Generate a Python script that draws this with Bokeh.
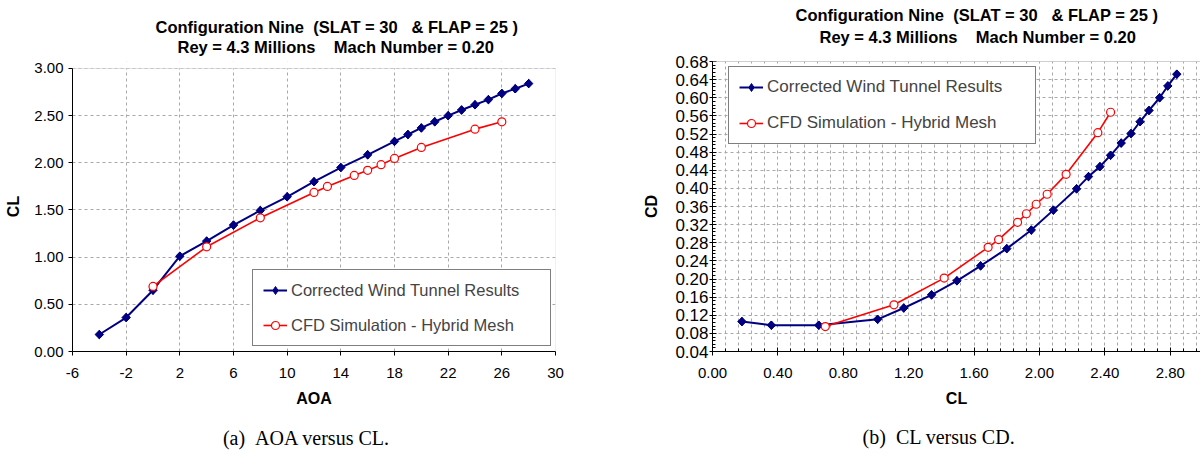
import numpy as np
from bokeh.plotting import figure
from bokeh.models import (FixedTicker, PrintfTickFormatter, Legend, LegendItem,
                          Title, Span, Range1d, LinearAxis, BoxAnnotation)
from bokeh.layouts import row
from bokeh.embed import file_html
from bokeh.resources import INLINE

# ---------------- data ----------------
WT_AOA = [-4, -2, 0, 2, 4, 6, 8, 10, 12, 14, 16, 18, 19, 20, 21, 22, 23, 24, 25, 26, 27, 28]
WT_CL = [0.18, 0.36, 0.65, 1.01, 1.17, 1.34, 1.495, 1.64, 1.80, 1.95, 2.085, 2.227,
         2.30, 2.37, 2.435, 2.50, 2.56, 2.615, 2.67, 2.735, 2.785, 2.84]
WT_CD = [0.106, 0.098, 0.098, 0.111, 0.136, 0.165, 0.196, 0.229, 0.267, 0.308, 0.352,
         0.399, 0.426, 0.448, 0.473, 0.500, 0.521, 0.547, 0.572, 0.600, 0.626, 0.652]

CFD_AOA = [0, 4, 8, 12, 13, 15, 16, 17, 18, 20, 24, 26]
CFD_CL = [0.69, 1.11, 1.417, 1.686, 1.75, 1.866, 1.92, 1.98, 2.047, 2.163, 2.357, 2.435]
CFD_CD = [0.095, 0.143, 0.202, 0.270, 0.287, 0.325, 0.344, 0.365, 0.387, 0.431, 0.523, 0.568]

AOA_TICKS = [-6, -2, 2, 6, 10, 14, 18, 22, 26, 30]
CL_TICKS = [0.0, 0.5, 1.0, 1.5, 2.0, 2.5, 3.0]
CLX_TICKS = [0.0, 0.4, 0.8, 1.2, 1.6, 2.0, 2.4, 2.8]
CD_TICKS = [0.04, 0.08, 0.12, 0.16, 0.20, 0.24, 0.28, 0.32, 0.36, 0.40, 0.44, 0.48,
            0.52, 0.56, 0.60, 0.64, 0.68]

NB = "\u00a0"
TITLE1 = "Configuration Nine " + NB + "(SLAT = 30 " + NB + NB + "& FLAP = 25 )"
TITLE2 = "Rey = 4.3 Millions " + NB + NB + NB + "Mach Number = 0.20"
LEG_WT = "Corrected Wind Tunnel Results"
LEG_CFD = "CFD Simulation - Hybrid Mesh"
CAP_A = "(a) " + NB + "AOA versus CL." + NB * 3
CAP_B = "(b) " + NB + "CL versus CD." + NB * 7

NAVY = "#000080"
RED = "#ff0000"
GRID = "#a8a8a8"
BORDER = "#a0a0a0"
FONT = "Liberation Sans"


def style_axis(ax, size="15px"):
    ax.axis_line_color = "black"
    ax.major_tick_line_color = "black"
    ax.minor_tick_line_color = "black"
    ax.major_label_text_font = FONT
    ax.major_label_text_font_size = size
    ax.major_label_text_color = "black"
    ax.axis_label_text_font = FONT
    ax.axis_label_text_font_size = "16px"
    ax.axis_label_text_font_style = "bold"
    ax.axis_label_text_color = "black"


def add_series(p, xw, yw, xc, yc):
    lw = p.line(xw, yw, line_color=NAVY, line_width=2)
    # diamond key (used by the legend), covered by the rotated squares below
    kw = p.scatter(xw, yw, marker="diamond", size=8.5, fill_color=NAVY, line_color=NAVY)
    p.scatter(xw, yw, marker="square", angle=np.pi / 4, size=6,
              fill_color=NAVY, line_color=NAVY)
    lc = p.line(xc, yc, line_color=RED, line_width=1.6)
    sc = p.scatter(xc, yc, marker="circle", size=8, fill_color="white",
                   line_color=RED, line_width=1.2)
    return [LegendItem(label=LEG_WT, renderers=[lw, kw]),
            LegendItem(label=LEG_CFD, renderers=[lc, sc])]


def add_legend(p, items, loc, label_width, font_size, spacing):
    leg = Legend(items=items, location=loc, margin=0, padding=10,
                 spacing=spacing, glyph_width=24, glyph_height=20,
                 label_height=20, label_width=label_width, label_standoff=4,
                 label_text_font=FONT, label_text_font_size=font_size,
                 border_line_color="black", border_line_width=1,
                 background_fill_color="white", background_fill_alpha=1.0)
    p.add_layout(leg, "center")


def add_titles(p, off1, off2, va2, s2, s1):
    p.add_layout(Title(text=TITLE2, align="left", offset=off2, standoff=s2,
                       vertical_align=va2,
                       text_font=FONT, text_font_size="16.5px", text_font_style="bold",
                       text_color="black"), "above")
    p.add_layout(Title(text=TITLE1, align="left", offset=off1, standoff=s1,
                       text_font=FONT, text_font_size="16.5px", text_font_style="bold",
                       text_color="black"), "above")


def add_caption(p, text, standoff):
    ax = LinearAxis(ticker=FixedTicker(ticks=[]), axis_line_color=None,
                    major_tick_line_color=None, minor_tick_line_color=None,
                    major_tick_in=0, major_tick_out=0, minor_tick_out=0,
                    major_label_text_font_size="0px",
                    axis_label=text, axis_label_standoff=standoff,
                    axis_label_text_font="Liberation Serif",
                    axis_label_text_font_size="20px",
                    axis_label_text_font_style="normal",
                    axis_label_text_color="black")
    p.add_layout(ax, "below")


# ---------------- left chart: AOA vs CL ----------------
p1 = figure(output_backend="svg", toolbar_location=None,
            frame_width=483, frame_height=290,
            min_border_left=72, min_border_right=85, min_border_top=61, min_border_bottom=100,
            x_range=Range1d(-6, 30), y_range=Range1d(0, 3.074),
            background_fill_color="white", border_fill_color="white")
p1.outline_line_color = None
p1.xaxis.ticker = FixedTicker(ticks=AOA_TICKS)
p1.yaxis.ticker = FixedTicker(ticks=CL_TICKS)
p1.yaxis.bounds = (0, 3)
p1.xaxis.formatter = PrintfTickFormatter(format="%d")
p1.yaxis.formatter = PrintfTickFormatter(format="%.2f")
for ax in (p1.xaxis[0], p1.yaxis[0]):
    style_axis(ax)
    ax.major_tick_in = 0
    ax.major_tick_out = 4
    ax.minor_tick_in = 0
    ax.minor_tick_out = 0
p1.xaxis[0].axis_label = "AOA"
p1.yaxis[0].axis_label = "CL"
p1.xaxis[0].major_label_standoff = 12
p1.xaxis[0].axis_label_standoff = 9
p1.yaxis[0].major_label_standoff = 5
p1.yaxis[0].axis_label_standoff = 9
for g in (p1.xgrid[0], p1.ygrid[0]):
    g.grid_line_color = GRID
    g.grid_line_dash = "3 3"
    g.grid_line_width = 1
# blank strip above the plot area and its grey border
p1.add_layout(BoxAnnotation(bottom=3.0, fill_color="white", fill_alpha=1.0,
                            line_color=None, level="underlay"))
p1.add_layout(BoxAnnotation(left=-6, right=30, bottom=0, top=3.0, fill_color=None,
                            line_color=BORDER, line_width=1, level="underlay"))

items1 = add_series(p1, WT_AOA, WT_CL, CFD_AOA, CFD_CL)
add_legend(p1, items1, (180, 5), 249, "16.5px", 15)
add_titles(p1, 83, 105, "bottom", 12, -12)
add_caption(p1, CAP_A, 17)

# ---------------- right chart: CL vs CD ----------------
p2 = figure(output_backend="svg", toolbar_location=None,
            frame_width=488, frame_height=290,
            min_border_left=71, min_border_right=1, min_border_top=61, min_border_bottom=100,
            x_range=Range1d(0, 2.985), y_range=Range1d(0.04, 0.68),
            background_fill_color="white", border_fill_color="white")
p2.outline_line_color = None
x_minor = [round(0.08 * i, 2) for i in range(0, 38)]
y_minor = [round(0.04 + 0.008 * i, 3) for i in range(0, 81)]
p2.xaxis.ticker = FixedTicker(ticks=CLX_TICKS, minor_ticks=x_minor)
p2.yaxis.ticker = FixedTicker(ticks=CD_TICKS, minor_ticks=y_minor)
p2.xaxis.formatter = PrintfTickFormatter(format="%.2f")
p2.yaxis.formatter = PrintfTickFormatter(format="%.2f")
style_axis(p2.xaxis[0], "15px")
style_axis(p2.yaxis[0], "17px")
for ax in (p2.xaxis[0], p2.yaxis[0]):
    ax.major_tick_in = 4
    ax.major_tick_out = 4
    ax.minor_tick_in = 3
    ax.minor_tick_out = 0
p2.yaxis[0].major_tick_out = 3
p2.xaxis[0].axis_label = "CL"
p2.yaxis[0].axis_label = "CD"
p2.xaxis[0].major_label_standoff = 12
p2.xaxis[0].axis_label_standoff = 9
p2.yaxis[0].major_label_standoff = 1
p2.yaxis[0].axis_label_standoff = 12
p2.xgrid[0].ticker = FixedTicker(ticks=x_minor)
p2.ygrid[0].ticker = FixedTicker(ticks=CD_TICKS)
for g in (p2.xgrid[0], p2.ygrid[0]):
    g.grid_line_color = GRID
    g.grid_line_dash = "3 3"
    g.grid_line_width = 1
p2.add_layout(Span(location=0.68, dimension="width", line_color=BORDER, line_width=1))

items2 = add_series(p2, WT_CL, WT_CD, CFD_CL, CFD_CD)
add_legend(p2, items2, (16, 207), 258, "17px", 16)
add_titles(p2, 83, 107, "top", 28, -20)
add_caption(p2, CAP_B, 16)

layout = row(p1, p2)
open("out.html", "w").write(file_html(layout, INLINE))
